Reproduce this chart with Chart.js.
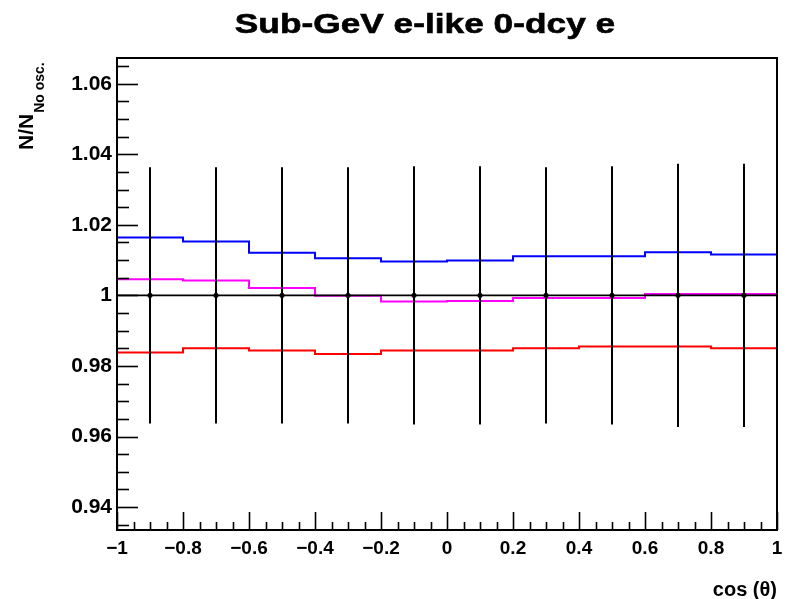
<!DOCTYPE html>
<html>
<head>
<meta charset="utf-8">
<script src="https://cdn.jsdelivr.net/npm/chart.js@4/dist/chart.umd.min.js"></script>
<style>
  html, body { margin: 0; padding: 0; background: #ffffff; }
  canvas { display: block; }
</style>
</head>
<body>
<canvas id="ratioChart" width="791" height="599"></canvas>
<script>
// Zenith-angle bins and ratios to the no-oscillation expectation
const binEdges   = [-1, -0.8, -0.6, -0.4, -0.2, 0, 0.2, 0.4, 0.6, 0.8, 1];
const binCenters = [-0.9, -0.7, -0.5, -0.3, -0.1, 0.1, 0.3, 0.5, 0.7, 0.9];

const noOscRatio = [1, 1, 1, 1, 1, 1, 1, 1, 1, 1];
const noOscError = [0.0363, 0.0363, 0.0363, 0.0363, 0.0366, 0.0366, 0.0363, 0.0366, 0.0373, 0.0373];

const blueRatio    = [1.0164, 1.0153, 1.0121, 1.0105, 1.0096, 1.0099, 1.0111, 1.0111, 1.0122, 1.0116];
const magentaRatio = [1.0046, 1.0042, 1.0021, 0.9999, 0.9983, 0.9984, 0.9993, 0.9993, 1.0004, 1.0004];
const redRatio     = [0.9838, 0.9850, 0.9844, 0.9834, 0.9844, 0.9844, 0.9850, 0.9855, 0.9855, 0.9850];

const xTickValues = [-1, -0.8, -0.6, -0.4, -0.2, 0, 0.2, 0.4, 0.6, 0.8, 1];
const xTickLabels = ['\u22121', '\u22120.8', '\u22120.6', '\u22120.4', '\u22120.2', '0', '0.2', '0.4', '0.6', '0.8', '1'];
const yTickValues = [0.94, 0.96, 0.98, 1, 1.02, 1.04, 1.06];
const yTickLabels = ['0.94', '0.96', '0.98', '1', '1.02', '1.04', '1.06'];

const xRange = [-1, 1];
const yRange = [0.9335, 1.0673];

const titleText  = 'Sub-GeV e-like 0-dcy e';
const xTitleText = 'cos (\u03b8)';
const yTitleMain = 'N/N';
const yTitleSub  = 'No osc.';

const FONT = "'Liberation Sans', Arial, Helvetica, sans-serif";

// Histogram outline: one point per left bin edge plus the closing right edge
function histPoints(values) {
  const pts = values.map((v, i) => ({ x: binEdges[i], y: v }));
  pts.push({ x: binEdges[binEdges.length - 1], y: values[values.length - 1] });
  return pts;
}

function stepDataset(label, values, color, width) {
  return {
    type: 'line',
    label: label,
    data: histPoints(values),
    borderColor: color,
    borderWidth: width,
    stepped: true,
    pointRadius: 0,
    fill: false,
    tension: 0
  };
}

// Error bars on the reference histogram
const errorBarPlugin = {
  id: 'errorBars',
  afterDatasetsDraw(chart) {
    const { ctx, scales: { x, y } } = chart;
    ctx.save();
    ctx.strokeStyle = '#000000';
    ctx.lineWidth = 2;
    binCenters.forEach((c, i) => {
      const px = Math.round(x.getPixelForValue(c));
      ctx.beginPath();
      ctx.moveTo(px, y.getPixelForValue(noOscRatio[i] + noOscError[i]));
      ctx.lineTo(px, y.getPixelForValue(noOscRatio[i] - noOscError[i]));
      ctx.stroke();
    });
    ctx.restore();
  }
};

// Frame, inward tick marks, titles
const framePlugin = {
  id: 'frameAndTitles',
  afterDraw(chart) {
    const { ctx, chartArea: a, scales: { x, y } } = chart;
    ctx.save();
    ctx.strokeStyle = '#000000';

    // inward ticks on the bottom axis
    ctx.lineWidth = 1.6;
    const xMinorStep = 0.05;
    for (let k = 0; ; k++) {
      const v = xRange[0] + k * xMinorStep;
      if (v > xRange[1] + 1e-9) break;
      const isMajor = Math.abs(v * 5 - Math.round(v * 5)) < 1e-6;
      const px = Math.round(x.getPixelForValue(v)) + 0.5;
      ctx.beginPath();
      ctx.moveTo(px, a.bottom);
      ctx.lineTo(px, a.bottom - (isMajor ? 18 : 8));
      ctx.stroke();
    }

    // inward ticks on the left axis
    const yMinorStep = 0.005;
    const kStart = Math.ceil(yRange[0] / yMinorStep - 1e-9);
    const kEnd = Math.floor(yRange[1] / yMinorStep + 1e-9);
    for (let k = kStart; k <= kEnd; k++) {
      const v = k * yMinorStep;
      const isMajor = k % 4 === 0;
      const py = Math.round(y.getPixelForValue(v)) + 0.5;
      ctx.beginPath();
      ctx.moveTo(a.left, py);
      ctx.lineTo(a.left + (isMajor ? 21 : 12), py);
      ctx.stroke();
    }

    // frame
    ctx.lineWidth = 2;
    ctx.strokeRect(a.left, a.top, a.right - a.left, a.bottom - a.top);

    ctx.fillStyle = '#000000';

    // main title, wide bold face
    ctx.save();
    ctx.font = 'bold 28px ' + FONT;
    ctx.textAlign = 'center';
    ctx.textBaseline = 'alphabetic';
    ctx.translate(425, 33);
    ctx.scale(1.26, 1);
    ctx.fillText(titleText, 0, 0);
    ctx.lineWidth = 0.6;
    ctx.strokeText(titleText, 0, 0);
    ctx.restore();

    // x-axis title, right aligned
    ctx.font = 'bold 20px ' + FONT;
    ctx.textAlign = 'right';
    ctx.textBaseline = 'alphabetic';
    ctx.fillText(xTitleText, a.right, 596);

    // y-axis title with subscript, rotated
    ctx.save();
    ctx.translate(33, 150);
    ctx.rotate(-Math.PI / 2);
    ctx.textAlign = 'left';
    ctx.textBaseline = 'alphabetic';
    ctx.font = 'bold 21px ' + FONT;
    ctx.fillText(yTitleMain, 0, 0);
    const w = ctx.measureText(yTitleMain).width;
    ctx.font = 'bold 14px ' + FONT;
    ctx.fillText(yTitleSub, w + 1, 11);
    ctx.restore();

    ctx.restore();
  }
};

Chart.defaults.font.family = FONT;

new Chart(document.getElementById('ratioChart'), {
  type: 'line',
  data: {
    datasets: [
      // reference histogram (drawn on top)
      stepDataset('No oscillation', noOscRatio, '#000000', 1.8),
      {
        type: 'scatter',
        label: 'No oscillation points',
        data: binCenters.map((c, i) => ({ x: c, y: noOscRatio[i] })),
        backgroundColor: '#000000',
        borderColor: '#000000',
        pointRadius: 2.2,
        pointHoverRadius: 2.2,
        showLine: false
      },
      stepDataset('Magenta', magentaRatio, '#ff00ff', 2),
      stepDataset('Blue', blueRatio, '#0000ff', 2),
      stepDataset('Red', redRatio, '#ff0000', 2)
    ]
  },
  options: {
    responsive: false,
    devicePixelRatio: 1,
    animation: false,
    events: [],
    layout: { padding: { top: 58, right: 14, left: 0, bottom: 0 } },
    plugins: {
      legend: { display: false },
      title: { display: false },
      tooltip: { enabled: false }
    },
    scales: {
      x: {
        type: 'linear',
        min: xRange[0],
        max: xRange[1],
        grid: { display: false, drawTicks: false },
        border: { display: false },
        afterBuildTicks(scale) {
          scale.ticks = xTickValues.map(v => ({ value: v }));
        },
        afterFit(scale) { scale.height = 69; },
        ticks: {
          autoSkip: false,
          maxRotation: 0,
          padding: 7,
          color: '#000000',
          font: { size: 19, weight: 'bold' },
          callback(value, index) { return xTickLabels[index]; }
        }
      },
      y: {
        type: 'linear',
        min: yRange[0],
        max: yRange[1],
        grid: { display: false, drawTicks: false },
        border: { display: false },
        afterBuildTicks(scale) {
          scale.ticks = yTickValues.map(v => ({ value: v }));
        },
        afterFit(scale) { scale.width = 117; },
        ticks: {
          autoSkip: false,
          padding: 5,
          color: '#000000',
          font: { size: 21, weight: 'bold' },
          callback(value, index) { return yTickLabels[index]; }
        }
      }
    }
  },
  plugins: [errorBarPlugin, framePlugin]
});
</script>
</body>
</html>
